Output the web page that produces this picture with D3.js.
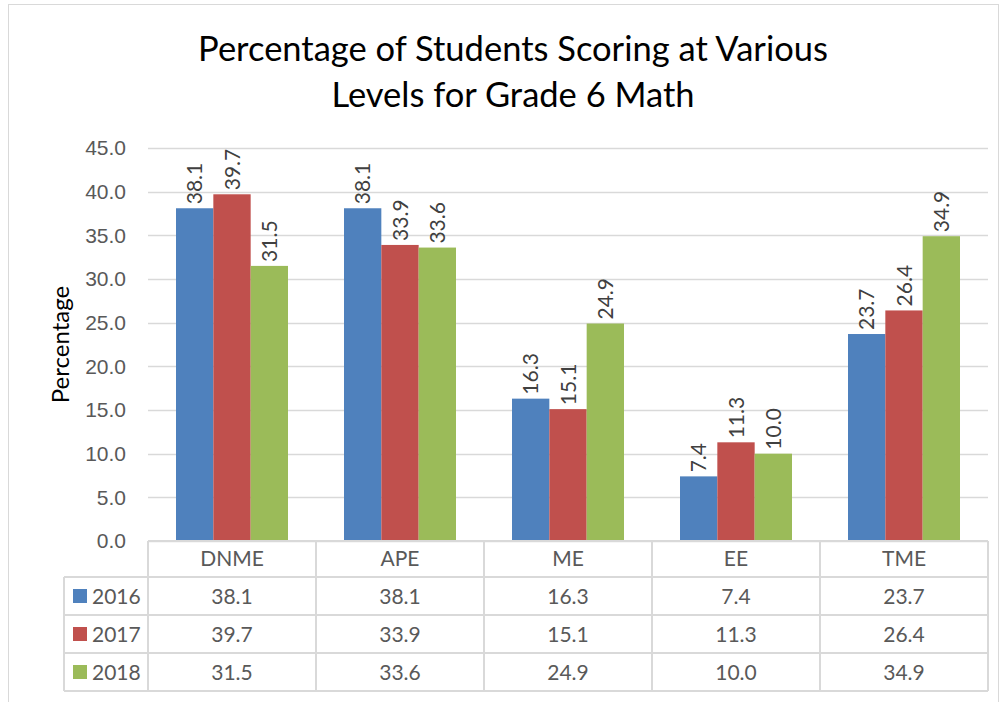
<!DOCTYPE html>
<html>
<head>
<meta charset="utf-8">
<script src="https://cdn.jsdelivr.net/npm/d3@7"></script>
<style>
  body { margin: 0; background: #fff; }
  svg { display: block; font-family: Lato, "Open Sans", sans-serif; }
</style>
</head>
<body>
<div id="chart"></div>
<script>
// chart data
const categories = ["DNME", "APE", "ME", "EE", "TME"];
const years = ["2016", "2017", "2018"];
const values2016 = [38.1, 38.1, 16.3, 7.4, 23.7];
const values2017 = [39.7, 33.9, 15.1, 11.3, 26.4];
const values2018 = [31.5, 33.6, 24.9, 10.0, 34.9];
const yTicks = [0, 5, 10, 15, 20, 25, 30, 35, 40, 45];
const colors = ["#4F81BD", "#C0504D", "#9BBB59"];

const series = years.map(function(y, i) {
  return {year: y, values: [values2016, values2017, values2018][i], color: colors[i]};
});

const width = 1003, height = 702;
const plot = {left: 148, right: 988, top: 148, bottom: 541};
const headerH = 36, rowH = 38, legendLeft = 64;
const gridColor = "#D9D9D9", textColor = "#595959";
const fontSize = "21px";

let svg = d3.select("#chart")
  .append("svg")
  .attr("width", width)
  .attr("height", height);

// outer border of the chart
svg.append("rect")
  .attr("x", 8.5).attr("y", 4.5)
  .attr("width", 990).attr("height", 710)
  .attr("fill", "none")
  .attr("stroke", gridColor)
  .attr("stroke-width", 1);

let x = d3.scaleBand()
  .domain(categories)
  .range([plot.left, plot.right]);

let xInner = d3.scaleBand()
  .domain(years)
  .range([28, x.bandwidth() - 28]);

let y = d3.scaleLinear()
  .domain([0, 45])
  .range([plot.bottom, plot.top]);

// gridlines
svg.append("g")
  .selectAll("line")
  .data(yTicks)
  .enter()
  .append("line")
  .attr("x1", plot.left)
  .attr("x2", plot.right)
  .attr("y1", function(d) { return Math.round(y(d)) + 0.5; })
  .attr("y2", function(d) { return Math.round(y(d)) + 0.5; })
  .attr("stroke", gridColor)
  .attr("stroke-width", 1.3);

// y axis labels
let yAxis = svg.append("g")
  .attr("transform", `translate(${plot.left - 22},0)`)
  .call(d3.axisLeft(y).tickValues(yTicks).tickFormat(d3.format(".1f")).tickSize(0).tickPadding(0));
yAxis.select(".domain").remove();
yAxis.selectAll("text")
  .attr("fill", textColor)
  .style("font-size", fontSize);

// bars
series.forEach(function(s) {
  svg.append("g")
    .selectAll("rect")
    .data(s.values)
    .enter()
    .append("rect")
    .attr("x", function(d, i) { return x(categories[i]) + xInner(s.year); })
    .attr("y", function(d) { return y(d); })
    .attr("width", xInner.bandwidth())
    .attr("height", function(d) { return y(0) - y(d); })
    .attr("fill", s.color);

  // rotated value labels
  svg.append("g")
    .selectAll("text")
    .data(s.values)
    .enter()
    .append("text")
    .attr("transform", function(d, i) {
      let cx = x(categories[i]) + xInner(s.year) + xInner.bandwidth() / 2;
      return `translate(${cx + 7.5},${y(d) - 4}) rotate(-90)`;
    })
    .attr("fill", "#404040")
    .style("font-size", fontSize)
    .text(function(d) { return d.toFixed(1); });
});

// data table
let tableTop = plot.bottom;
let tableBottom = tableTop + headerH + rowH * years.length;
let table = svg.append("g")
  .attr("stroke", gridColor)
  .attr("stroke-width", 2);

// horizontal lines
table.append("line")
  .attr("x1", plot.left).attr("x2", plot.right)
  .attr("y1", tableTop).attr("y2", tableTop);
years.forEach(function(yr, i) {
  let ly = tableTop + headerH + rowH * i;
  table.append("line")
    .attr("x1", legendLeft).attr("x2", plot.right)
    .attr("y1", ly).attr("y2", ly);
});
table.append("line")
  .attr("x1", legendLeft).attr("x2", plot.right)
  .attr("y1", tableBottom).attr("y2", tableBottom);

// vertical lines
table.append("line")
  .attr("x1", legendLeft).attr("x2", legendLeft)
  .attr("y1", tableTop + headerH).attr("y2", tableBottom);
categories.forEach(function(c) {
  table.append("line")
    .attr("x1", x(c)).attr("x2", x(c))
    .attr("y1", tableTop).attr("y2", tableBottom);
});
table.append("line")
  .attr("x1", plot.right).attr("x2", plot.right)
  .attr("y1", tableTop).attr("y2", tableBottom);

// category headers
svg.append("g")
  .selectAll("text")
  .data(categories)
  .enter()
  .append("text")
  .attr("x", function(d) { return x(d) + x.bandwidth() / 2; })
  .attr("y", tableTop + headerH / 2 + 7)
  .attr("text-anchor", "middle")
  .attr("fill", textColor)
  .style("font-size", fontSize)
  .text(function(d) { return d; });

// value rows + legend keys
series.forEach(function(s, r) {
  let rowMid = tableTop + headerH + rowH * r + rowH / 2;
  svg.append("rect")
    .attr("x", 73).attr("y", rowMid - 7)
    .attr("width", 14).attr("height", 14)
    .attr("fill", s.color);
  svg.append("text")
    .attr("x", 92).attr("y", rowMid + 7.5)
    .attr("fill", textColor)
    .style("font-size", fontSize)
    .text(s.year);

  svg.append("g")
    .selectAll("text")
    .data(s.values)
    .enter()
    .append("text")
    .attr("x", function(d, i) { return x(categories[i]) + x.bandwidth() / 2; })
    .attr("y", rowMid + 7.5)
    .attr("text-anchor", "middle")
    .attr("fill", textColor)
    .style("font-size", fontSize)
    .text(function(d) { return d.toFixed(1); });
});

// y axis title
svg.append("text")
  .attr("transform", `translate(69,${(plot.top + plot.bottom) / 2}) rotate(-90)`)
  .attr("text-anchor", "middle")
  .attr("fill", "#000")
  .style("font-size", "24px")
  .text("Percentage");

// title
svg.append("text")
  .attr("x", 513).attr("y", 61)
  .attr("text-anchor", "middle")
  .attr("fill", "#000")
  .style("font-size", "34.5px")
  .text("Percentage of Students Scoring at Various");
svg.append("text")
  .attr("x", 513).attr("y", 107)
  .attr("text-anchor", "middle")
  .attr("fill", "#000")
  .style("font-size", "34.5px")
  .text("Levels for Grade 6 Math");
</script>
</body>
</html>
